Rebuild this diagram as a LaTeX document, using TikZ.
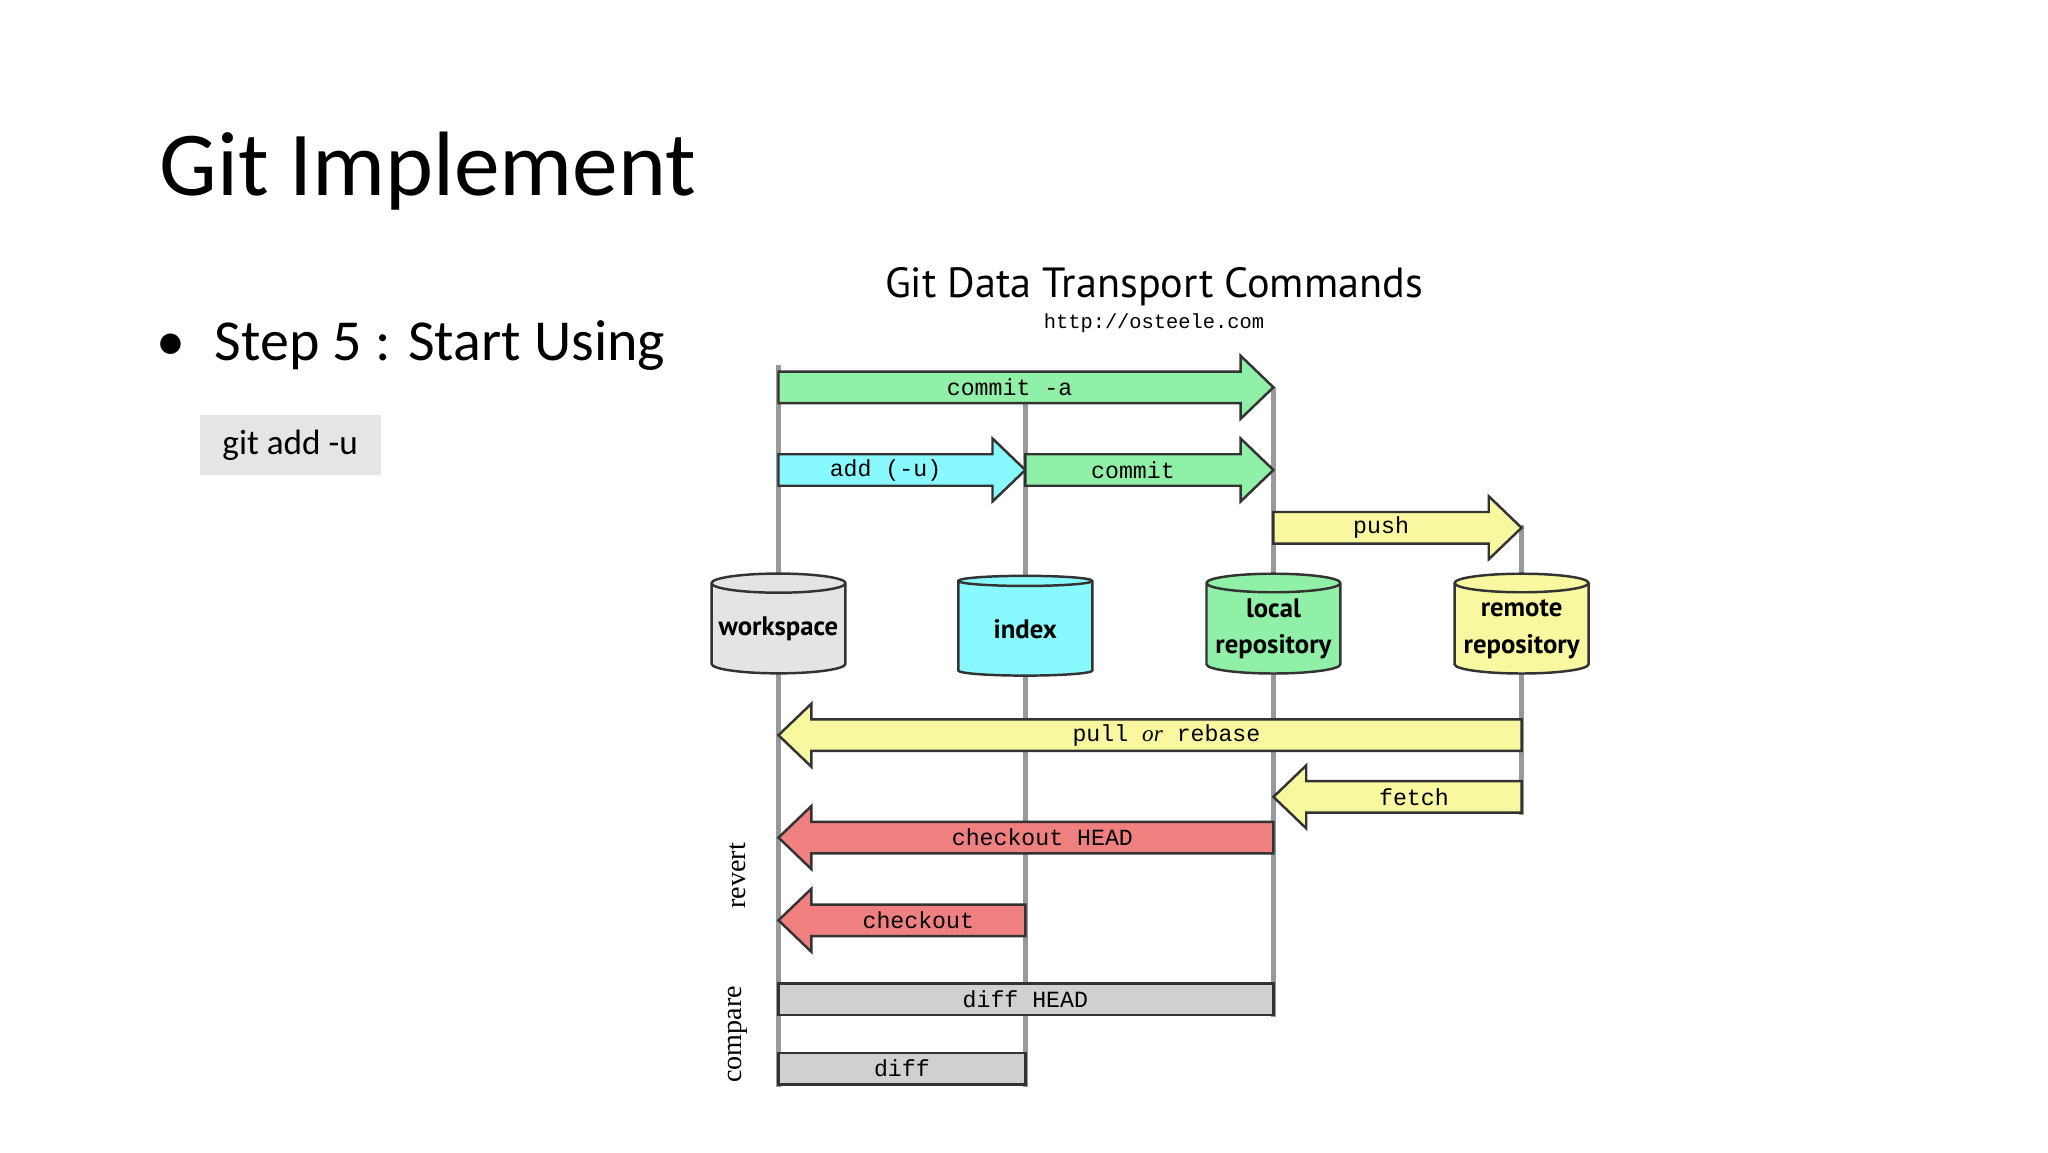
\documentclass[tikz,border=0pt]{standalone}
\usepackage{fontspec}
\setmainfont{Carlito}
\newfontfamily\monof{Liberation Mono}
\newfontfamily\cylf{PT Sans}
\usetikzlibrary{shapes.geometric}
\definecolor{cgreen}{HTML}{90F0A8}
\definecolor{ccyan}{HTML}{88FAFF}
\definecolor{cyel}{HTML}{F8F8A0}
\definecolor{cred}{HTML}{F08080}
\definecolor{cgray}{HTML}{D0D0D2}
\definecolor{cws}{HTML}{E4E4E4}
\begin{document}
\begin{tikzpicture}[x=0.013128cm,y=-0.013128cm,
  vline/.style={draw=gray!80,line width=1.4pt},
  arr/.style={draw=black!80,line width=0.7pt,line join=miter},
  lab/.style={font=\monof\fontsize{6.6}{8}\selectfont},
  cyl/.style={cylinder,shape border rotate=90,draw=black!80,line width=0.7pt,minimum width=102*0.013128cm,minimum height=76*0.013128cm,aspect=0.16,align=center,font=\cylf\bfseries\fontsize{7.6}{10.5}\selectfont,inner sep=0pt}]
\useasboundingbox (0,0) rectangle (1560,877.5);
\coordinate (wt) at (593,278); \coordinate (wb) at (593,828);
\coordinate (it) at (781,300); \coordinate (ib) at (781,828);
\coordinate (lt) at (970,295); \coordinate (lb) at (970,775);
\coordinate (rt) at (1159,400); \coordinate (rb) at (1159,621);
\draw[vline] (wt)--(wb); \draw[vline] (it)--(ib); \draw[vline] (lt)--(lb); \draw[vline] (rt)--(rb);
\node[anchor=west,font=\fontsize{26}{30}\selectfont] (title) at (112,130) {Git Implement};
\node[anchor=west,font=\fontsize{16.5}{20}\selectfont] (bul) at (110,263) {\textbullet\hspace{0.5em}Step 5 : Start Using};
\node[fill=black!10,minimum width=138*0.013128cm,minimum height=46*0.013128cm,font=\fontsize{10}{12}\selectfont] (code) at (221,339) {git add -u};
\node[font=\cylf\fontsize{12}{14}\selectfont] (dtitle) at (879,218) {Git Data Transport Commands};
\node[font=\monof\fontsize{5.8}{7}\selectfont] (url) at (879,246) {http://osteele.com};
\newcommand\rarr[5]{\filldraw[arr,fill=#4] (#2,#1-12) -- (#3-25,#1-12) -- (#3-25,#1-24) -- (#3,#1) -- (#3-25,#1+24) -- (#3-25,#1+12) -- (#2,#1+12) -- cycle;
  \node[lab] at ({(#2+#3-25)/2},#1) {#5};}
\newcommand\larr[5]{\filldraw[arr,fill=#4] (#3,#1-12) -- (#2+25,#1-12) -- (#2+25,#1-24) -- (#2,#1) -- (#2+25,#1+24) -- (#2+25,#1+12) -- (#3,#1+12) -- cycle;
  \node[lab] at ({(#2+25+#3)/2},#1) {#5};}
\rarr{295}{593}{970}{cgreen}{commit -a}
\rarr{358}{593}{781}{ccyan}{add (-u)}
\rarr{358}{781}{970}{cgreen}{commit}
\rarr{402}{970}{1159}{cyel}{push}
\larr{560}{593}{1159}{cyel}{pull \textit{\fontspec{Liberation Serif}or} rebase}
\larr{607}{970}{1159}{cyel}{fetch}
\larr{638}{593}{970}{cred}{checkout HEAD}
\larr{701}{593}{781}{cred}{checkout}
\filldraw[arr,fill=cgray] (593,749) rectangle (970,773); \node[lab] (dh) at (781,761) {diff HEAD};
\filldraw[arr,fill=cgray] (593,802) rectangle (781,826); \node[lab] (df) at (687,814) {diff};
\node[cyl,fill=cws] (ws) at (593,479) {workspace};
\node[cyl,fill=ccyan] (ix) at (781,479) {index};
\node[cyl,fill=cgreen] (lr) at (970,479) {local\\repository};
\node[cyl,fill=cyel] (rr) at (1159,479) {remote\\repository};
\node[rotate=90,font=\fontsize{8}{9}\selectfont] (rev) at (562,667) {\fontspec{Liberation Serif}revert};
\node[rotate=90,font=\fontsize{8}{9}\selectfont] (cmp) at (562,788) {\fontspec{Liberation Serif}compare};
\end{tikzpicture}
\end{document}
